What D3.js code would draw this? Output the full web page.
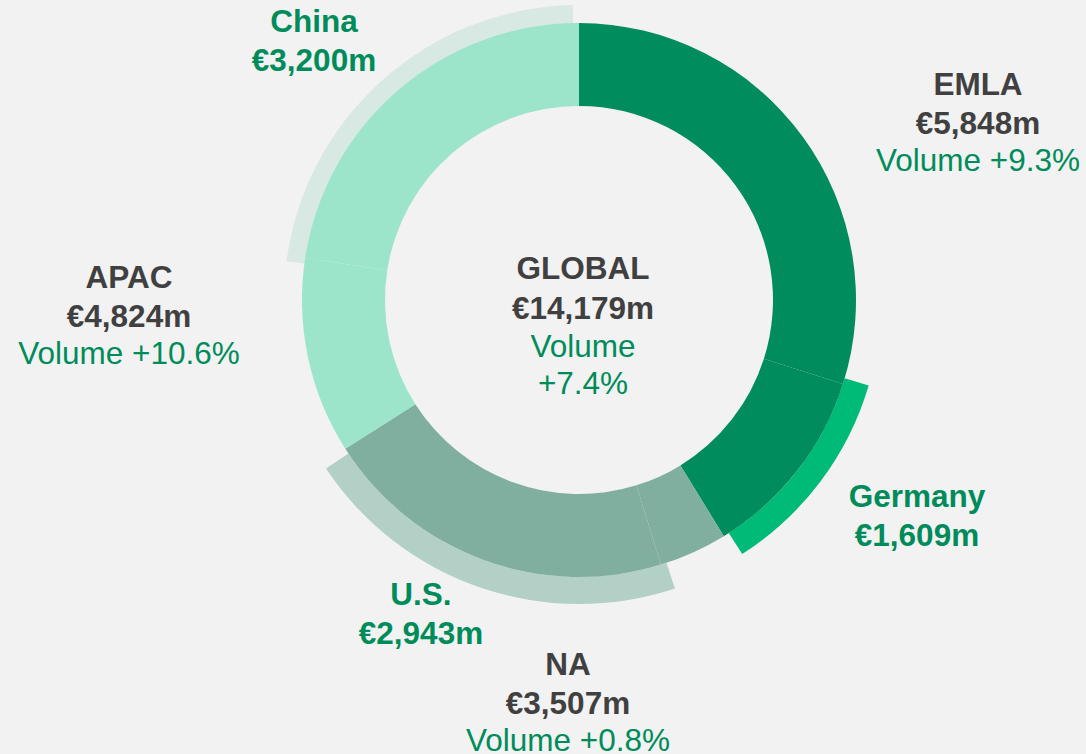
<!DOCTYPE html>
<html>
<head>
<meta charset="utf-8">
<script src="https://cdn.jsdelivr.net/npm/d3@7"></script>
<style>
  html, body { margin: 0; padding: 0; background: #f2f2f2; }
  svg { display: block; font-family: "Liberation Sans", Arial, sans-serif; }
</style>
</head>
<body>
<svg id="chart" width="1086" height="754"></svg>
<script>
// DATA
// regions, sales in €m and volume growth
var regions = ["EMLA", "NA", "APAC"];
var regionValues = [5848, 3507, 4824];
var regionVolume = ["+9.3%", "+0.8%", "+10.6%"];

// highlighted country inside each region (sits at the end of the region slice)
var countries = ["Germany", "U.S.", "China"];
var countryValues = [1609, 2943, 3200];

var globalVolume = "+7.4%";

// LAYOUT
var width = 1086,
    height = 754,
    cx = 579,
    cy = 300,
    innerR = 194,
    outerR = 277;

var regionColor = { EMLA: "#008c5c", NA: "#80af9f", APAC: "#9ce5cb" };
var bandColor = { Germany: "#00ba78", "U.S.": "#b3d0c6", China: "#d8e8e2" };
var bandRadius = { Germany: [277, 302], "U.S.": [277, 304], China: [262, 295] };

var green = "#008c5a",
    gray = "#404040";

// label anchor (center x, first baseline) per block
var labelPos = {
    GLOBAL: [583, 279],
    EMLA: [978, 95],
    NA: [568, 675],
    APAC: [129, 288],
    Germany: [917, 507],
    "U.S.": [421, 605],
    China: [314, 32]
};

var fmt = function(v) { return "€" + d3.format(",")(v) + "m"; };

// split every region into "rest" + country piece
var pieces = [];
regions.forEach(function(r, i) {
    pieces.push({ region: r, country: null, value: regionValues[i] - countryValues[i] });
    pieces.push({ region: r, country: countries[i], value: countryValues[i] });
});

var pie = d3.pie()
    .sort(null)
    .value(function(d) { return d.value; });

var arcs = pie(pieces);

var svg = d3.select("#chart");

var g = svg.append("g")
    .attr("transform", "translate(" + cx + "," + cy + ")");

// outer bands for the countries (drawn first, behind the ring)
// the outer ring sits slightly turned against the inner one
var bands = g.append("g")
    .attr("transform", "rotate(-1.2)");

arcs.filter(function(d) { return d.data.country; }).forEach(function(d) {
    var rr = bandRadius[d.data.country];
    var band = d3.arc()
        .innerRadius(rr[0])
        .outerRadius(rr[1]);
    bands.append("path")
        .attr("d", band(d))
        .style("fill", bandColor[d.data.country]);
});

// main ring
var ring = d3.arc()
    .innerRadius(innerR)
    .outerRadius(outerR);

g.selectAll(".piece")
    .data(arcs)
  .enter().append("path")
    .attr("class", "piece")
    .attr("d", ring)
    .style("fill", function(d) { return regionColor[d.data.region]; });

// text blocks
function block(key, lines) {
    var p = labelPos[key];
    var t = svg.append("g");
    var y = p[1];
    lines.forEach(function(l) {
        y += l.step;
        t.append("text")
            .attr("x", p[0])
            .attr("y", y)
            .attr("text-anchor", "middle")
            .style("font-size", "31.5px")
            .style("font-weight", l.bold ? "bold" : "normal")
            .style("fill", l.color)
            .text(l.text);
    });
}

var total = d3.sum(regionValues);

block("GLOBAL", [
    { text: "GLOBAL", bold: true, color: gray, step: 0 },
    { text: fmt(total), bold: true, color: gray, step: 40 },
    { text: "Volume", bold: false, color: green, step: 38 },
    { text: globalVolume, bold: false, color: green, step: 37 }
]);

regions.forEach(function(r, i) {
    block(r, [
        { text: r, bold: true, color: gray, step: 0 },
        { text: fmt(regionValues[i]), bold: true, color: gray, step: 39 },
        { text: "Volume " + regionVolume[i], bold: false, color: green, step: 37 }
    ]);
});

countries.forEach(function(c, i) {
    block(c, [
        { text: c, bold: true, color: green, step: 0 },
        { text: fmt(countryValues[i]), bold: true, color: green, step: 39 }
    ]);
});
</script>
</body>
</html>
